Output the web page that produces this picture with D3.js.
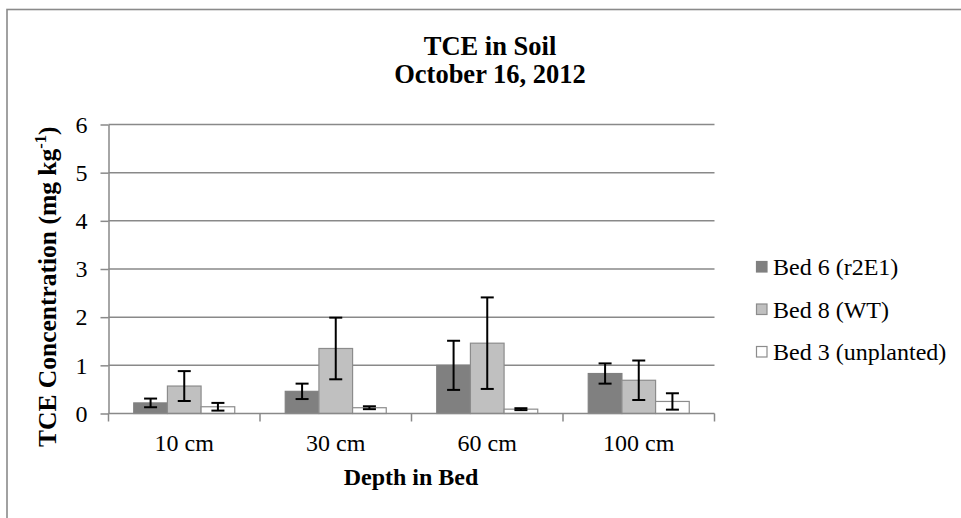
<!DOCTYPE html>
<html>
<head>
<meta charset="utf-8">
<script src="https://cdn.jsdelivr.net/npm/d3@7"></script>
<style>
  body { margin: 0; background: #fff; }
  svg { display: block; }
  svg text { font-family: "Times New Roman", "Liberation Serif", Tinos, "DejaVu Serif", serif; fill: #000; }
</style>
</head>
<body>
<svg id="chart" width="961" height="518"></svg>
<script>
const depths = ["10 cm", "30 cm", "60 cm", "100 cm"];
const beds = ["Bed 6 (r2E1)", "Bed 8 (WT)", "Bed 3 (unplanted)"];
const bed6 = [0.22, 0.46, 1.0, 0.83];
const bed6Err = [0.09, 0.16, 0.51, 0.21];
const bed8 = [0.57, 1.35, 1.46, 0.69];
const bed8Err = [0.31, 0.64, 0.95, 0.41];
const bed3 = [0.14, 0.12, 0.09, 0.25];
const bed3Err = [0.08, 0.03, 0.02, 0.17];
const yTicks = [0, 1, 2, 3, 4, 5, 6];

const fills = ["#808080", "#c0c0c0", "#ffffff"];
const strokes = ["#808080", "#8c8c8c", "#8c8c8c"];

const values = [bed6, bed8, bed3];
const errors = [bed6Err, bed8Err, bed3Err];

const chart = d3.select("#chart");

// outer frame (runs off the right and bottom edges)
chart
  .append("rect")
  .attr("x", 7)
  .attr("y", 9.5)
  .attr("width", 1000)
  .attr("height", 600)
  .attr("fill", "none")
  .attr("stroke", "#8a8a8a")
  .attr("stroke-width", 1.6);

const plotLeft = 108.5, plotRight = 714.5, plotTop = 124.5, plotBottom = 413.5;

const xScale = d3.scaleBand().domain(depths).range([plotLeft, plotRight]);
const inner = d3
  .scaleBand()
  .domain(d3.range(beds.length))
  .range([0, xScale.bandwidth()])
  .paddingInner(0)
  .paddingOuter(0.75);

const yScale = d3.scaleLinear().domain([0, 6]).range([plotBottom, plotTop]);

// gridlines
chart
  .selectAll(".grid")
  .data(yTicks.slice(1))
  .enter()
  .append("line")
  .attr("x1", plotLeft)
  .attr("x2", plotRight)
  .attr("y1", (d) => yScale(d))
  .attr("y2", (d) => yScale(d))
  .attr("stroke", "#898989")
  .attr("stroke-width", 1.5);

// bars
beds.forEach((bed, i) => {
  chart
    .append("g")
    .selectAll("rect")
    .data(depths)
    .enter()
    .append("rect")
    .attr("x", (d) => xScale(d) + inner(i))
    .attr("y", (d, j) => yScale(values[i][j]))
    .attr("width", inner.bandwidth())
    .attr("height", (d, j) => yScale(0) - yScale(values[i][j]))
    .attr("fill", fills[i])
    .attr("stroke", strokes[i])
    .attr("stroke-width", 1.2);
});

// error bars
beds.forEach((bed, i) => {
  const g = chart.append("g").attr("stroke", "#000").attr("stroke-width", 2);
  depths.forEach((d, j) => {
    const cx = xScale(d) + inner(i) + inner.bandwidth() / 2;
    const hi = yScale(values[i][j] + errors[i][j]);
    const lo = yScale(Math.max(0, values[i][j] - errors[i][j]));
    g.append("line").attr("x1", cx).attr("x2", cx).attr("y1", hi).attr("y2", lo);
    g.append("line").attr("x1", cx - 6.5).attr("x2", cx + 6.5).attr("y1", hi).attr("y2", hi);
    g.append("line").attr("x1", cx - 6.5).attr("x2", cx + 6.5).attr("y1", lo).attr("y2", lo);
  });
});

// axes
const yAxis = d3
  .axisLeft(yScale)
  .tickValues(yTicks)
  .tickFormat(d3.format("d"))
  .tickSize(8)
  .tickPadding(13)
  .tickSizeOuter(0);
const yG = chart
  .append("g")
  .attr("transform", `translate(${plotLeft}, 0)`)
  .call(yAxis)
  .attr("font-family", null)
  .attr("font-size", null);
yG.select(".domain").attr("stroke", "#898989").attr("stroke-width", 1.5);
yG.selectAll(".tick line").attr("stroke", "#898989").attr("stroke-width", 1.5);
yG.selectAll(".tick text").style("font-size", "24px").attr("fill", "#000");

const xG = chart.append("g").attr("transform", `translate(0, ${plotBottom})`);
xG.append("line")
  .attr("x1", plotLeft)
  .attr("x2", plotRight)
  .attr("stroke", "#898989")
  .attr("stroke-width", 1.5);
xG.selectAll(".xtick")
  .data(depths.concat(["end"]))
  .enter()
  .append("line")
  .attr("x1", (d, i) => plotLeft + i * xScale.step())
  .attr("x2", (d, i) => plotLeft + i * xScale.step())
  .attr("y1", 0)
  .attr("y2", 8)
  .attr("stroke", "#898989")
  .attr("stroke-width", 1.5);
xG.selectAll(".xlabel")
  .data(depths)
  .enter()
  .append("text")
  .attr("x", (d) => xScale(d) + xScale.bandwidth() / 2)
  .attr("y", 37)
  .attr("text-anchor", "middle")
  .style("font-size", "24px")
  .text((d) => d);

// titles
chart
  .append("text")
  .attr("x", 490)
  .attr("y", 55)
  .attr("text-anchor", "middle")
  .style("font-size", "26.5px")
  .style("font-weight", "bold")
  .text("TCE in Soil");
chart
  .append("text")
  .attr("x", 490)
  .attr("y", 83)
  .attr("text-anchor", "middle")
  .style("font-size", "26.5px")
  .style("font-weight", "bold")
  .text("October 16, 2012");

chart
  .append("text")
  .attr("x", 411)
  .attr("y", 485)
  .attr("text-anchor", "middle")
  .style("font-size", "24px")
  .style("font-weight", "bold")
  .text("Depth in Bed");

const yTitle = chart
  .append("text")
  .attr("transform", "translate(56, 447) rotate(-90)")
  .attr("text-anchor", "start")
  .style("font-size", "25.5px")
  .style("font-weight", "bold");
yTitle.append("tspan").text("TCE Concentration (mg kg");
yTitle.append("tspan").attr("dy", -10).style("font-size", "16.5px").text("-1");
yTitle.append("tspan").attr("dy", 10).text(")");

// legend
const legend = chart
  .selectAll(".legend")
  .data(beds)
  .enter()
  .append("g")
  .attr("transform", (d, i) => `translate(756.5, ${261.5 + i * 42.5})`);
legend
  .append("rect")
  .attr("width", 10.5)
  .attr("height", 10.5)
  .attr("fill", (d, i) => fills[i])
  .attr("stroke", (d, i) => strokes[i])
  .attr("stroke-width", 1.2);
legend
  .append("text")
  .attr("x", 16.5)
  .attr("y", 13.5)
  .style("font-size", "24px")
  .text((d) => d);
</script>
</body>
</html>
